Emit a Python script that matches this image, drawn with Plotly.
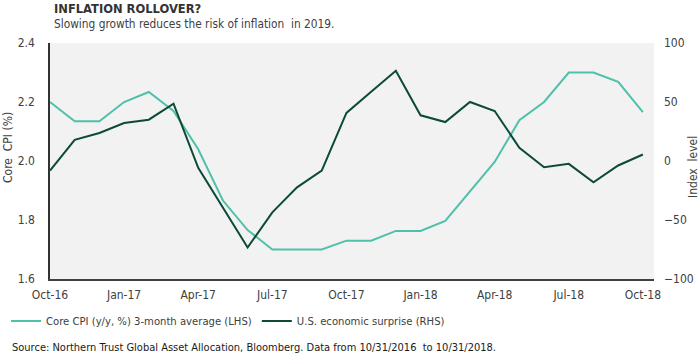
import plotly.graph_objects as go

months = ["Oct-16", "Nov-16", "Dec-16", "Jan-17", "Feb-17", "Mar-17", "Apr-17", "May-17",
          "Jun-17", "Jul-17", "Aug-17", "Sep-17", "Oct-17", "Nov-17", "Dec-17", "Jan-18",
          "Feb-18", "Mar-18", "Apr-18", "May-18", "Jun-18", "Jul-18", "Aug-18", "Sep-18", "Oct-18"]
core_cpi = [2.20, 2.135, 2.135, 2.20, 2.234, 2.17, 2.04, 1.866, 1.766, 1.70, 1.70, 1.70,
            1.73, 1.73, 1.763, 1.763, 1.797, 1.897, 1.997, 2.138, 2.20, 2.30, 2.30, 2.268, 2.166]
surprise = [-8.1, 18.0, 23.7, 32.2, 35.0, 48.6, -5.8, -39.3, -73.3, -43.5, -22.3, -8.1,
            40.7, 58.6, 76.5, 38.7, 33.0, 50.0, 42.4, 11.2, -5.3, -2.4, -18.0, -3.8, 5.5]
x_ticks = ["Oct-16", "Jan-17", "Apr-17", "Jul-17", "Oct-17", "Jan-18", "Apr-18", "Jul-18", "Oct-18"]
left_ticks = [1.6, 1.8, 2.0, 2.2, 2.4]
right_ticks = [-100, -50, 0, 50, 100]

FONT = "DejaVu Sans Condensed, Liberation Sans Narrow, Arial Narrow, sans-serif"
TXT = "#404040"
TEAL = "#4fc0aa"
DARK = "#0c4a36"

L, R, T, B = 50, 654, 43, 279
W, H = 700, 356


def px(xp):
    return (xp - L) / (R - L)


def py(yp):
    return (B - yp) / (B - T)


fig = go.Figure()
fig.add_trace(go.Scatter(x=months, y=core_cpi, mode="lines", name="Core CPI (y/y, %) 3-month average (LHS)",
                         line=dict(color=TEAL, width=2)))
fig.add_trace(go.Scatter(x=months, y=surprise, mode="lines", name="U.S. economic surprise (RHS)",
                         line=dict(color=DARK, width=2), yaxis="y2"))

fig.update_layout(
    width=W, height=H,
    margin=dict(l=L, r=W - R, t=T, b=H - B, autoexpand=False),
    paper_bgcolor="white", plot_bgcolor="#f2f2f2",
    font=dict(family=FONT, size=12, color=TXT),
    showlegend=True,
    legend=dict(orientation="h", x=px(6), y=py(321),
                xanchor="left", yanchor="middle", font=dict(size=11.2, color=TXT),
                itemwidth=30, bgcolor="rgba(0,0,0,0)"),
    xaxis=dict(type="category", categoryorder="array", categoryarray=months,
               range=[0, 24.45], tickvals=x_ticks, ticktext=x_ticks, automargin=False,
               showgrid=False, zeroline=False, showline=True, linecolor="#404040", linewidth=2,
               ticks="", ticklabelstandoff=4, tickfont=dict(size=12, color=TXT)),
    yaxis=dict(range=[1.6, 2.4], tickvals=left_ticks, tickformat=".1f", showgrid=False,
               automargin=False, zeroline=False, showline=True, linecolor="#333333", linewidth=1.5,
               ticks="", ticklabelstandoff=11, tickfont=dict(size=12, color=TXT)),
    yaxis2=dict(range=[-100, 100], tickvals=right_ticks, overlaying="y", side="right",
                automargin=False, showgrid=False, zeroline=False, showline=False, ticks="",
                ticklabelstandoff=9, tickfont=dict(size=12, color=TXT)),
)

fig.add_annotation(text="<b>INFLATION ROLLOVER?</b>", xref="paper", yref="paper", x=px(52), y=py(9),
                   xanchor="left", yanchor="middle", showarrow=False,
                   font=dict(family=FONT, size=12.8, color="#333333"))
fig.add_annotation(text="Slowing growth reduces the risk of inflation  in 2019.", xref="paper", yref="paper",
                   x=px(52), y=py(24), xanchor="left", yanchor="middle", showarrow=False,
                   font=dict(family=FONT, size=11.8, color=TXT))
fig.add_annotation(text="Core  CPI (%)", xref="paper", yref="paper", x=px(8), y=py(148),
                   textangle=-90, xanchor="center", yanchor="middle", showarrow=False,
                   font=dict(family=FONT, size=12, color=TXT))
fig.add_annotation(text="Index  level", xref="paper", yref="paper", x=px(693), y=py(167),
                   textangle=-90, xanchor="center", yanchor="middle", showarrow=False,
                   font=dict(family=FONT, size=12, color=TXT))
fig.add_annotation(text="Source: Northern Trust Global Asset Allocation, Bloomberg. Data from 10/31/2016  to 10/31/2018.",
                   xref="paper", yref="paper", x=px(10), y=py(347), xanchor="left",
                   yanchor="middle", showarrow=False, font=dict(family=FONT, size=11, color="#1a1a1a"))

fig.write_html("out.html", config={"displayModeBar": False},
               post_script="document.body.style.margin='0';document.body.style.padding='0';")
